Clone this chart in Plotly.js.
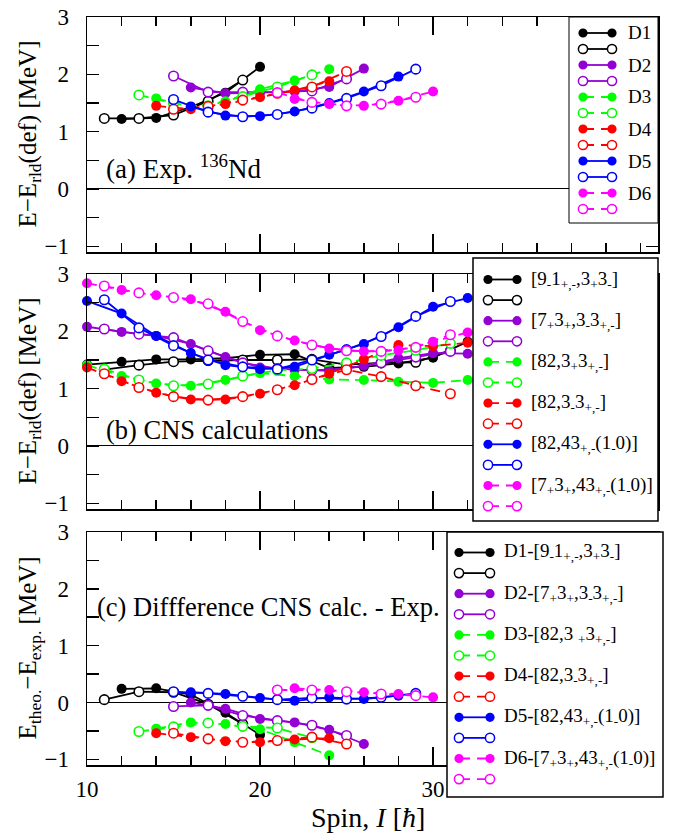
<!DOCTYPE html>
<html>
<head>
<meta charset="utf-8">
<script src="https://cdn.plot.ly/plotly-3.0.1.min.js"></script>
<style>html,body{margin:0;padding:0;background:#fff;}#chart{width:680px;height:837px;}</style>
</head>
<body>
<div id="chart"></div>
<script>
// ---------- Series styling ----------
const seriesColors = ['#000000', '#9400d3', '#00ff00', '#ff0000', '#0000ff', '#ff00ff'];
const seriesDashed = [false, false, true, true, false, true];

// ---------- Tick labels ----------
const spinTickVals = [10, 20, 30, 40];
const spinTickText = ['10', '20', '30', ''];

// ---------- Legend labels ----------
const legendA = ['D1', 'D2', 'D3', 'D4', 'D5', 'D6'];
const legendB = [
  '[9<sub>-</sub>1<sub>+,-</sub>,3<sub>+</sub>3<sub>-</sub>]',
  '[7<sub>+</sub>3<sub>+</sub>,3<sub>-</sub>3<sub>+,-</sub>]',
  '[82,3<sub>+</sub>3<sub>+,-</sub>]',
  '[82,3<sub>-</sub>3<sub>+,-</sub>]',
  '[82,43<sub>+,-</sub>(1<sub>-</sub>0)]',
  '[7<sub>+</sub>3<sub>+</sub>,43<sub>+,-</sub>(1<sub>-</sub>0)]'
];
const legendC = [
  'D1-[9<sub>-</sub>1<sub>+,-</sub>,3<sub>+</sub>3<sub>-</sub>]',
  'D2-[7<sub>+</sub>3<sub>+</sub>,3<sub>-</sub>3<sub>+,-</sub>]',
  'D3-[82,3 <sub>+</sub>3<sub>+,-</sub>]',
  'D4-[82,3<sub>-</sub>3<sub>+,-</sub>]',
  'D5-[82,43<sub>+,-</sub>(1<sub>-</sub>0)]',
  'D6-[7<sub>+</sub>3<sub>+</sub>,43<sub>+,-</sub>(1<sub>-</sub>0)]'
];

// ---------- Panel (a): experiment, E - E_rld(def) [MeV] ----------
const expD1_evenI = [12, 14, 16, 18, 20];
const expD1_evenE = [1.22, 1.24, 1.43, 1.68, 2.13];
const expD1_oddI  = [11, 13, 15, 17, 19];
const expD1_oddE  = [1.23, 1.23, 1.29, 1.53, 1.90];
const expD2_evenI = [16, 18, 20, 22, 24, 26];
const expD2_evenE = [1.77, 1.67, 1.68, 1.70, 1.78, 2.10];
const expD2_oddI  = [15, 17, 19, 21, 23, 25];
const expD2_oddE  = [1.97, 1.69, 1.69, 1.69, 1.71, 1.92];
const expD3_evenI = [14, 16, 18, 20, 22, 24];
const expD3_evenE = [1.58, 1.43, 1.53, 1.74, 1.89, 2.09];
const expD3_oddI  = [13, 15, 17, 19, 21, 23];
const expD3_oddE  = [1.64, 1.49, 1.45, 1.61, 1.78, 1.99];
const expD4_evenI = [14, 16, 18, 20, 22, 24];
const expD4_evenE = [1.45, 1.39, 1.48, 1.60, 1.72, 1.88];
const expD4_oddI  = [15, 17, 19, 21, 23, 25];
const expD4_oddE  = [1.39, 1.44, 1.55, 1.67, 1.78, 2.05];
const expD5_evenI = [16, 18, 20, 22, 24, 26, 28];
const expD5_evenE = [1.44, 1.28, 1.27, 1.35, 1.50, 1.70, 1.96];
const expD5_oddI  = [15, 17, 19, 21, 23, 25, 27, 29];
const expD5_oddE  = [1.56, 1.34, 1.26, 1.30, 1.41, 1.58, 1.80, 2.09];
const expD6_evenI = [22, 24, 26, 28, 30];
const expD6_evenE = [1.57, 1.48, 1.45, 1.54, 1.70];
const expD6_oddI  = [21, 23, 25, 27, 29];
const expD6_oddE  = [1.68, 1.51, 1.45, 1.48, 1.60];

// ---------- Panel (b): CNS calculations ----------
const cnsEvenI = [10, 12, 14, 16, 18, 20, 22, 24, 26, 28, 30, 32];
const cnsOddI  = [11, 13, 15, 17, 19, 21, 23, 25, 27, 29, 31];
const cnsD1_evenE = [1.42, 1.47, 1.51, 1.51, 1.53, 1.59, 1.60, 1.36, 1.38, 1.44, 1.54, 1.82];
const cnsD1_oddE  = [1.33, 1.41, 1.47, 1.49, 1.50, 1.50, 1.51, 1.42, 1.45, 1.46, 1.66];
const cnsD2_evenE = [2.08, 1.99, 1.92, 1.78, 1.55, 1.37, 1.33, 1.31, 1.40, 1.53, 1.62, 1.61];
const cnsD2_oddE  = [2.04, 1.95, 1.89, 1.66, 1.45, 1.35, 1.32, 1.35, 1.45, 1.55, 1.65];
const cnsD3_evenE = [1.41, 1.22, 1.09, 1.05, 1.15, 1.27, 1.22, 1.16, 1.15, 1.12, 1.10, 1.15];
const cnsD3_oddE  = [1.34, 1.15, 1.05, 1.08, 1.22, 1.32, 1.35, 1.45, 1.58, 1.67, 1.79];
const cnsD4_evenE = [1.37, 1.13, 0.93, 0.81, 0.81, 0.91, 1.06, 1.26, 1.51, 1.76, 1.74, 1.80];
const cnsD4_oddE  = [1.26, 1.02, 0.86, 0.80, 0.86, 0.98, 1.16, 1.33, 1.21, 1.05, 0.91];
const cnsD5_evenE = [2.53, 2.31, 1.92, 1.62, 1.41, 1.34, 1.38, 1.59, 1.78, 2.07, 2.43, 2.58];
const cnsD5_oddE  = [2.55, 2.06, 1.75, 1.50, 1.38, 1.34, 1.50, 1.68, 1.91, 2.26, 2.52];
const cnsD6_evenE = [2.84, 2.72, 2.63, 2.56, 2.34, 2.02, 1.84, 1.70, 1.65, 1.67, 1.82, 1.98];
const cnsD6_oddE  = [2.79, 2.67, 2.59, 2.48, 2.17, 1.92, 1.76, 1.66, 1.65, 1.72, 1.94];

// ---------- Panel (c): difference CNS calc. - Exp. ----------
const difD1_evenE = [0.24, 0.25, 0.14, -0.18, -0.57];
const difD1_oddE  = [0.05, 0.19, 0.18, -0.03, -0.38];
const difD2_evenE = [0.00, -0.11, -0.29, -0.35, -0.48, -0.73];
const difD2_oddE  = [-0.07, -0.05, -0.23, -0.32, -0.40, -0.58];
const difD3_evenE = [-0.46, -0.35, -0.38, -0.47, -0.70, -0.93];
const difD3_oddE  = [-0.51, -0.43, -0.36, -0.42, -0.45, -0.62];
const difD4_evenE = [-0.54, -0.61, -0.68, -0.70, -0.65, -0.63];
const difD4_oddE  = [-0.54, -0.64, -0.70, -0.67, -0.61, -0.73];
const difD5_evenE = [0.18, 0.15, 0.08, 0.03, 0.09, 0.06, 0.12];
const difD5_oddE  = [0.19, 0.16, 0.11, 0.05, 0.08, 0.06, 0.09, 0.16];
const difD6_evenE = [0.25, 0.22, 0.18, 0.15, 0.09];
const difD6_oddE  = [0.22, 0.22, 0.19, 0.15, 0.12];

// ---------- grouping (spins of panel (c) = spins of panel (a)) ----------
const panelA = [
  [expD1_evenI, expD1_evenE, expD1_oddI, expD1_oddE],
  [expD2_evenI, expD2_evenE, expD2_oddI, expD2_oddE],
  [expD3_evenI, expD3_evenE, expD3_oddI, expD3_oddE],
  [expD4_evenI, expD4_evenE, expD4_oddI, expD4_oddE],
  [expD5_evenI, expD5_evenE, expD5_oddI, expD5_oddE],
  [expD6_evenI, expD6_evenE, expD6_oddI, expD6_oddE]
];
const panelB = [
  [cnsEvenI, cnsD1_evenE, cnsOddI, cnsD1_oddE],
  [cnsEvenI, cnsD2_evenE, cnsOddI, cnsD2_oddE],
  [cnsEvenI, cnsD3_evenE, cnsOddI, cnsD3_oddE],
  [cnsEvenI, cnsD4_evenE, cnsOddI, cnsD4_oddE],
  [cnsEvenI, cnsD5_evenE, cnsOddI, cnsD5_oddE],
  [cnsEvenI, cnsD6_evenE, cnsOddI, cnsD6_oddE]
];
const panelC = [
  [expD1_evenI, difD1_evenE, expD1_oddI, difD1_oddE],
  [expD2_evenI, difD2_evenE, expD2_oddI, difD2_oddE],
  [expD3_evenI, difD3_evenE, expD3_oddI, difD3_oddE],
  [expD4_evenI, difD4_evenE, expD4_oddI, difD4_oddE],
  [expD5_evenI, difD5_evenE, expD5_oddI, difD5_oddE],
  [expD6_evenI, difD6_evenE, expD6_oddI, difD6_oddE]
];

// ---------- geometry helpers ----------
const W = 680, H = 837;
const M = {l: 87, r: 22, t: 17, b: 72};
const PW = W - M.l - M.r, PH = H - M.t - M.b;
const xp = px => (px - M.l) / PW;
const yp = py => (H - M.b - py) / PH;
const DATA_DASH = '10px,6px';
const LEG_DASH = '11px,7px';

const traces = [];
function addPanel(panel, xa, ya) {
  panel.forEach((s, k) => {
    const col = seriesColors[k];
    const line = {color: col, width: 1.8, dash: seriesDashed[k] ? DATA_DASH : 'solid'};
    traces.push({x: s[0], y: s[1], xaxis: xa, yaxis: ya, type: 'scatter', mode: 'lines+markers',
      line: line, marker: {size: 10, color: col, line: {width: 0}}, cliponaxis: false, hoverinfo: 'skip'});
    traces.push({x: s[2], y: s[3], xaxis: xa, yaxis: ya, type: 'scatter', mode: 'lines+markers',
      line: line, marker: {size: 9.5, color: 'white', line: {color: col, width: 1.6}}, cliponaxis: false, hoverinfo: 'skip'});
  });
}
addPanel(panelA, 'x', 'y');
addPanel(panelB, 'x2', 'y2');
addPanel(panelC, 'x3', 'y3');

const FONT = '"Liberation Serif", "Times New Roman", Times, serif';
const shapes = [];
const annotations = [];

function addLegend(box, row0, step, mx0, mx1, tx, labels, fsize, bw) {
  shapes.push({type: 'rect', xref: 'paper', yref: 'paper', x0: xp(box[0]), x1: xp(box[1]),
    y0: yp(box[3]), y1: yp(box[2]), line: {color: 'black', width: bw}, fillcolor: 'white', layer: 'above'});
  for (let k = 0; k < 6; k++) {
    for (let o = 0; o < 2; o++) {
      const ry = row0 + (2 * k + o) * step;
      const col = seriesColors[k];
      shapes.push({type: 'line', xref: 'paper', yref: 'paper', x0: xp(mx0), x1: xp(mx1), y0: yp(ry), y1: yp(ry),
        line: {color: col, width: 1.8, dash: seriesDashed[k] ? LEG_DASH : 'solid'}, layer: 'above'});
      [mx0, mx1].forEach(mx => {
        shapes.push({type: 'circle', xref: 'paper', yref: 'paper', xsizemode: 'pixel', ysizemode: 'pixel',
          xanchor: xp(mx), yanchor: yp(ry), x0: -4.6, x1: 4.6, y0: -4.6, y1: 4.6,
          fillcolor: o ? 'white' : col, line: {color: col, width: o ? 1.5 : 0}, layer: 'above'});
      });
      if (o === 0) {
        annotations.push({xref: 'paper', yref: 'paper', x: xp(tx), y: yp(ry), xanchor: 'left', yanchor: 'middle',
          text: labels[k], showarrow: false, font: {family: FONT, size: fsize, color: 'black'}});
      }
    }
  }
}
addLegend([569, 658, 17, 223], 33, 16, 583, 612, 626, legendA, 19, 1);
addLegend([473, 658, 258, 521], 279.5, 20.6, 488, 517, 529, legendB, 19, 1.5);
addLegend([447, 663, 532, 797], 552.5, 20.6, 459, 490, 502, legendC, 19, 1.5);

// panel texts
annotations.push({xref: 'paper', yref: 'paper', x: xp(104), y: yp(167), xanchor: 'left', yanchor: 'middle',
  text: '(a) Exp. <sup>136</sup>Nd', showarrow: false, font: {family: FONT, size: 27, color: 'black'}});
annotations.push({xref: 'paper', yref: 'paper', x: xp(104), y: yp(430), xanchor: 'left', yanchor: 'middle',
  text: '(b) CNS calculations', showarrow: false, font: {family: FONT, size: 26.5, color: 'black'}});
annotations.push({xref: 'paper', yref: 'paper', x: xp(95), y: yp(607), xanchor: 'left', yanchor: 'middle',
  text: '(c) Diffference CNS calc. - Exp.', showarrow: false, font: {family: FONT, size: 26.5, color: 'black'}});

// axis titles
const ytitles = [
  ['E\u2212E<sub>rld</sub>(def) [MeV]', 134.5],
  ['E\u2212E<sub>rld</sub>(def) [MeV]', 391.5],
  ['E<sub>theo.</sub>\u2212E<sub>exp.</sub> [MeV]', 648.5]
];
ytitles.forEach(t => annotations.push({xref: 'paper', yref: 'paper', x: xp(29), y: yp(t[1]), xanchor: 'center',
  yanchor: 'middle', textangle: -90, text: t[0], showarrow: false, font: {family: FONT, size: 25, color: 'black'}}));
annotations.push({xref: 'paper', yref: 'paper', x: xp(368), y: yp(817), xanchor: 'center', yanchor: 'middle',
  text: 'Spin, <i>I</i> [<i>\u0127</i>]', showarrow: false, font: {family: FONT, size: 28, color: 'black'}});

function xax(anchor, labels) {
  return {anchor: anchor, range: [10, 43], showline: true, linecolor: 'black', linewidth: 1.5, mirror: 'ticks',
    ticks: 'inside', ticklen: 18, tickwidth: 1.5, tickcolor: 'black', tickmode: 'array',
    tickvals: spinTickVals, ticktext: spinTickText,
    minor: {ticks: 'inside', tickmode: 'linear', tick0: 10, dtick: 2, ticklen: 9, tickwidth: 1.5, tickcolor: 'black'},
    showgrid: false, zeroline: false, showticklabels: labels, ticklabelstandoff: 3,
    tickfont: {family: FONT, size: 23, color: 'black'}};
}
function yax(anchor, dom) {
  return {anchor: anchor, domain: dom, range: [-1.1, 3], showline: true, linecolor: 'black', linewidth: 1.5,
    mirror: 'ticks', ticks: 'inside', ticklen: 12, tickwidth: 1.5, tickcolor: 'black', tick0: 0, dtick: 1,
    minor: {ticks: 'inside', dtick: 0.5, ticklen: 12, tickwidth: 1.5, tickcolor: 'black'},
    showgrid: false, zeroline: true, zerolinecolor: 'black', zerolinewidth: 1, ticklabelstandoff: 12,
    tickfont: {family: FONT, size: 23, color: 'black'}};
}

const layout = {
  width: W, height: H, margin: M, paper_bgcolor: 'white', plot_bgcolor: 'white', showlegend: false,
  font: {family: FONT, size: 20, color: 'black'},
  xaxis: xax('y', false), xaxis2: xax('y2', false), xaxis3: xax('y3', true),
  yaxis: yax('x', [yp(252), 1]), yaxis2: yax('x2', [yp(509), yp(274)]), yaxis3: yax('x3', [0, yp(532)]),
  shapes: shapes, annotations: annotations
};

Plotly.newPlot('chart', traces, layout, {staticPlot: true, displayModeBar: false});
</script>
</body>
</html>
